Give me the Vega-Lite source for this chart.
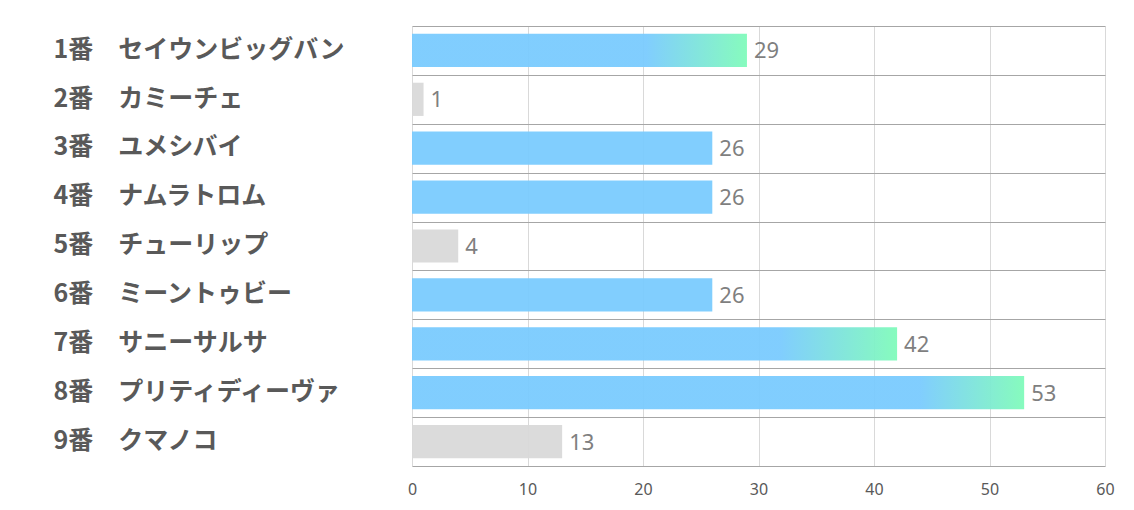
{
  "$schema": "https://vega.github.io/schema/vega-lite/v6.json",
  "width": 693,
  "height": 440,
  "autosize": {"type": "none"},
  "padding": {"left": 412, "top": 26, "right": 29, "bottom": 44},
  "background": "white",
  "config": {"view": {"stroke": null}},
  "data": {
    "values": [
      {"label": "1番　セイウンビッグバン", "value": 29, "group": "g1"},
      {"label": "2番　カミーチェ", "value": 1, "group": "gray"},
      {"label": "3番　ユメシバイ", "value": 26, "group": "blue"},
      {"label": "4番　ナムラトロム", "value": 26, "group": "blue"},
      {"label": "5番　チューリップ", "value": 4, "group": "gray"},
      {"label": "6番　ミーントゥビー", "value": 26, "group": "blue"},
      {"label": "7番　サニーサルサ", "value": 42, "group": "g2"},
      {"label": "8番　プリティディーヴァ", "value": 53, "group": "g3"},
      {"label": "9番　クマノコ", "value": 13, "group": "gray"}
    ]
  },
  "encoding": {
    "y": {
      "field": "label",
      "type": "nominal",
      "sort": ["1番　セイウンビッグバン", "2番　カミーチェ", "3番　ユメシバイ", "4番　ナムラトロム", "5番　チューリップ", "6番　ミーントゥビー", "7番　サニーサルサ", "8番　プリティディーヴァ", "9番　クマノコ"],
      "scale": {"paddingInner": 0.32, "paddingOuter": 0.16},
      "axis": {
        "title": null,
        "domain": false,
        "ticks": false,
        "tickSize": 0,
        "bandPosition": 0,
        "tickOffset": -7.82,
        "tickExtra": false,
        "grid": true,
        "gridColor": "#A6A6A6",
        "gridWidth": 1,
        "labelAlign": "left",
        "labelPadding": 359,
        "labelOffset": 6.5,
        "labelFont": "Noto Sans CJK JP",
        "labelFontSize": 25,
        "labelFontWeight": "bold",
        "labelColor": "#595959",
        "labelLimit": 400
      }
    },
    "x": {
      "field": "value",
      "type": "quantitative",
      "scale": {"domain": [0, 60], "nice": false},
      "axis": {
        "title": null,
        "values": [0, 10, 20, 30, 40, 50, 60],
        "ticks": false,
        "tickSize": 0,
        "domain": true,
        "domainColor": "#A6A6A6",
        "grid": true,
        "gridColor": "#D9D9D9",
        "labelFlush": false,
        "labelFont": "Noto Sans",
        "labelFontSize": 16,
        "labelColor": "#595959",
        "labelPadding": 15,
        "format": "d"
      }
    }
  },
  "layer": [
    {
      "transform": [{"filter": "datum.group === 'gray'"}],
      "mark": {"type": "bar", "color": "#D9D9D9", "opacity": 0.95}
    },
    {
      "transform": [{"filter": "datum.group === 'blue'"}],
      "mark": {"type": "bar", "color": "#7ACBFE", "opacity": 0.95}
    },
    {
      "transform": [{"filter": "datum.group === 'g1'"}],
      "mark": {"type": "bar", "opacity": 0.95, "color": {"gradient": "linear", "x1": 0, "y1": 0, "x2": 1, "y2": 0,
        "stops": [{"offset": 0, "color": "#7ACBFE"}, {"offset": 0.7, "color": "#7ACBFE"}, {"offset": 1, "color": "#80FBBA"}]}}
    },
    {
      "transform": [{"filter": "datum.group === 'g2'"}],
      "mark": {"type": "bar", "opacity": 0.95, "color": {"gradient": "linear", "x1": 0, "y1": 0, "x2": 1, "y2": 0,
        "stops": [{"offset": 0, "color": "#7ACBFE"}, {"offset": 0.76, "color": "#7ACBFE"}, {"offset": 1, "color": "#80FBBA"}]}}
    },
    {
      "transform": [{"filter": "datum.group === 'g3'"}],
      "mark": {"type": "bar", "opacity": 0.95, "color": {"gradient": "linear", "x1": 0, "y1": 0, "x2": 1, "y2": 0,
        "stops": [{"offset": 0, "color": "#7ACBFE"}, {"offset": 0.83, "color": "#7ACBFE"}, {"offset": 1, "color": "#80FBBA"}]}}
    },
    {
      "mark": {"type": "text", "align": "left", "baseline": "middle", "dx": 7, "dy": 1, "font": "Noto Sans", "fontSize": 22, "color": "#7F7F7F"},
      "encoding": {"text": {"field": "value", "type": "quantitative"}}
    }
  ]
}
